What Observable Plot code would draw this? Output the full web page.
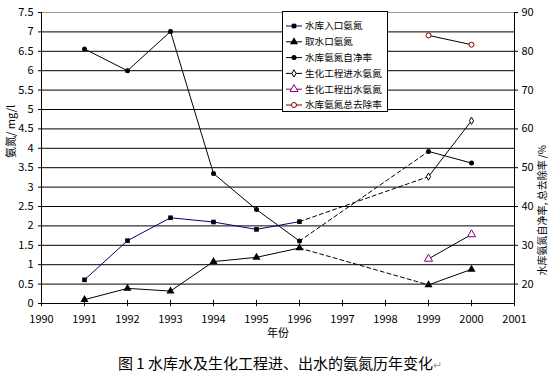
<!DOCTYPE html>
<html><head><meta charset="utf-8">
<script src="https://cdn.jsdelivr.net/npm/d3@7"></script>
<script src="https://cdn.jsdelivr.net/npm/@observablehq/plot@0.6"></script>
<style>
body{margin:0;background:#fff;width:560px;}
#chart{width:560px;height:352px;}
#caption{width:560px;height:32px;line-height:28px;text-align:center;font:15px "Noto Sans CJK SC",sans-serif;color:#000;}
#caption span{color:#999;font-size:11px;}
</style></head><body>
<div id="chart"></div>
<div id="caption">图 1 水库水及生化工程进、出水的氨氮历年变化<span>↵</span></div>
<script>
// ---- data ----
const years = [1991, 1992, 1993, 1994, 1995, 1996, 1999, 2000];
const inletNH3 = [0.61, 1.62, 2.21, 2.10, 1.91, 2.11, null, null];          // 水库入口氨氮 (mg/l)
const intakeNH3 = [0.10, 0.39, 0.32, 1.08, 1.19, 1.43, 0.48, 0.88];        // 取水口氨氮 (mg/l)
const selfPurification = [80.6, 75.0, 85.1, 48.5, 39.2, 31.1, 54.2, 51.2]; // 水库氨氮自净率 (%)
const bioInNH3 = [null, null, null, null, null, null, 3.27, 4.71];          // 生化工程进水氨氮 (mg/l)
const bioOutNH3 = [null, null, null, null, null, null, 1.15, 1.78];         // 生化工程出水氨氮 (mg/l)
const totalRemoval = [null, null, null, null, null, null, 84.1, 81.7];      // 水库氨氮总去除率 (%)
const seriesNames = ["水库入口氨氮", "取水口氨氮", "水库氨氮自净率", "生化工程进水氨氮", "生化工程出水氨氮", "水库氨氮总去除率"];
const xTicks = d3.range(1990, 2002);
const leftTicks = d3.range(0, 7.51, 0.5);
const rightTicks = [20, 30, 40, 50, 60, 70, 80, 90];
const xLabel = "年份";
const leftLabel = "氨氮/ mg/l";
const rightLabel = "水库氨氮自净率, 总去除率 /%";

// right axis (%) mapped onto left scale: left = (pct - 15) / 10
const rightMin = 15, rightPerLeft = 10;
const toLeft = v => (v - rightMin) / rightPerLeft;

const series = [
  {name: seriesNames[0], vals: inletNH3, right: false, line: "#000080", symbol: "square", r: 2.6, fill: "#000", stroke: "none"},
  {name: seriesNames[1], vals: intakeNH3, right: false, line: "#000", symbol: "triangle", r: 3.0, fill: "#000", stroke: "none"},
  {name: seriesNames[2], vals: selfPurification, right: true, line: "#000", symbol: "circle", r: 2.5, fill: "#000", stroke: "none"},
  {name: seriesNames[3], vals: bioInNH3, right: false, line: "#000", symbol: "diamond", r: 2.2, fill: "#fff", stroke: "#000", bridgeFrom: 0},
  {name: seriesNames[4], vals: bioOutNH3, right: false, line: "#000", symbol: "triangle", r: 3.0, fill: "#fff", stroke: "#800080"},
  {name: seriesNames[5], vals: totalRemoval, right: true, line: "#000", symbol: "circle", r: 2.5, fill: "#fff", stroke: "#800000"}
];

function pointsOf(s) {
  return years.map((x, i) => ({x, y: s.vals[i] == null ? null : (s.right ? toLeft(s.vals[i]) : s.vals[i])}))
    .filter(p => p.y != null);
}

const marks = [];
// gridlines & frame
marks.push(Plot.ruleY(leftTicks.filter(d => d > 0 && d < 7.5), {stroke: "#000", strokeWidth: 1}));
marks.push(Plot.ruleY([7.5], {stroke: "#999", strokeWidth: 1}));
marks.push(Plot.ruleY([0], {stroke: "#000", strokeWidth: 1}));
marks.push(Plot.ruleX([xTicks[0]], {stroke: "#000", strokeWidth: 1}));
marks.push(Plot.ruleX([xTicks[xTicks.length - 1]], {stroke: "#000", strokeWidth: 1}));
marks.push(Plot.ruleX(xTicks, {y1: -0.08, y2: 0.08, stroke: "#000"}));

// axes
marks.push(Plot.axisX({ticks: xTicks, tickFormat: d => String(d), tickSize: 0, tickPadding: 12, label: null}));
marks.push(Plot.axisY({ticks: leftTicks, tickFormat: d => String(d), tickSize: 3, tickPadding: 5, label: null}));
marks.push(Plot.axisY({anchor: "right", ticks: rightTicks.map(toLeft), tickFormat: d => String(Math.round(d * rightPerLeft + rightMin)), tickSize: 3, tickPadding: 4, label: null}));

// axis titles
marks.push(Plot.text([xLabel], {frameAnchor: "bottom", dy: 33, fontSize: 11}));
marks.push(Plot.text([leftLabel], {frameAnchor: "left", dx: -30, rotate: -90, fontSize: 11}));
marks.push(Plot.text([rightLabel], {frameAnchor: "right", dx: 28, dy: -13, rotate: -90, fontSize: 10}));

// series lines
series.forEach(s => {
  let pts = pointsOf(s);
  if (s.bridgeFrom != null) {
    const src = pointsOf(series[s.bridgeFrom]);
    pts = [src[src.length - 1], ...pts];
  }
  const solid = [], dashed = [];
  for (let i = 1; i < pts.length; i++) {
    const gap = pts[i].x - pts[i - 1].x > 1 || (s.bridgeFrom != null && i === 1);
    (gap ? dashed : solid).push({...pts[i - 1], seg: i}, {...pts[i], seg: i});
  }
  marks.push(Plot.line(solid, {x: "x", y: "y", z: "seg", stroke: s.line, strokeWidth: 1}));
  marks.push(Plot.line(dashed, {x: "x", y: "y", z: "seg", stroke: "#000", strokeWidth: 1, strokeDasharray: "4,3"}));
});
// series markers
series.forEach(s => {
  marks.push(Plot.dot(pointsOf(s), {x: "x", y: "y", symbol: () => s.symbol, r: s.r, fill: s.fill, stroke: s.stroke, strokeWidth: 1}));
});

const chart = Plot.plot({
  width: 560, height: 352,
  marginTop: 12, marginBottom: 49, marginLeft: 41, marginRight: 46,
  x: {domain: [1990, 2001]},
  y: {domain: [0, 7.5]},
  symbol: {type: "identity"},
  style: {fontFamily: "'Noto Sans CJK SC', sans-serif", fontSize: "11px", color: "#000", background: "#fff"},
  marks
});
document.getElementById("chart").appendChild(chart);

// legend (inside plot area)
const svg = d3.select(chart);
const lg = svg.append("g").attr("class", "legend").attr("text-anchor", "start");
const lx = 282, ly = 11, lw = 105, lh = 100;
lg.append("rect").attr("x", lx + 0.5).attr("y", ly + 0.5).attr("width", lw).attr("height", lh)
  .attr("fill", "#fff").attr("stroke", "#000");
const symMap = {square: d3.symbolSquare, triangle: d3.symbolTriangle, circle: d3.symbolCircle, diamond: d3.symbolDiamond};
series.forEach((s, i) => {
  const cy = ly + 15 + i * 15.8;
  const lineColor = s.stroke !== "none" && s.stroke !== "#000" ? s.stroke : s.line;
  lg.append("line").attr("x1", lx + 4).attr("x2", lx + 20).attr("y1", cy).attr("y2", cy)
    .attr("stroke", lineColor).attr("stroke-width", 1);
  lg.append("path").attr("d", d3.symbol(symMap[s.symbol], Math.PI * s.r * s.r)())
    .attr("transform", `translate(${lx + 12},${cy})`)
    .attr("fill", s.fill).attr("stroke", s.stroke).attr("stroke-width", 1);
  lg.append("text").attr("x", lx + 23).attr("y", cy).attr("dy", "0.35em")
    .attr("text-anchor", "start").attr("font-size", 9.6).attr("fill", "#000").text(s.name);
});
</script>
</body></html>
